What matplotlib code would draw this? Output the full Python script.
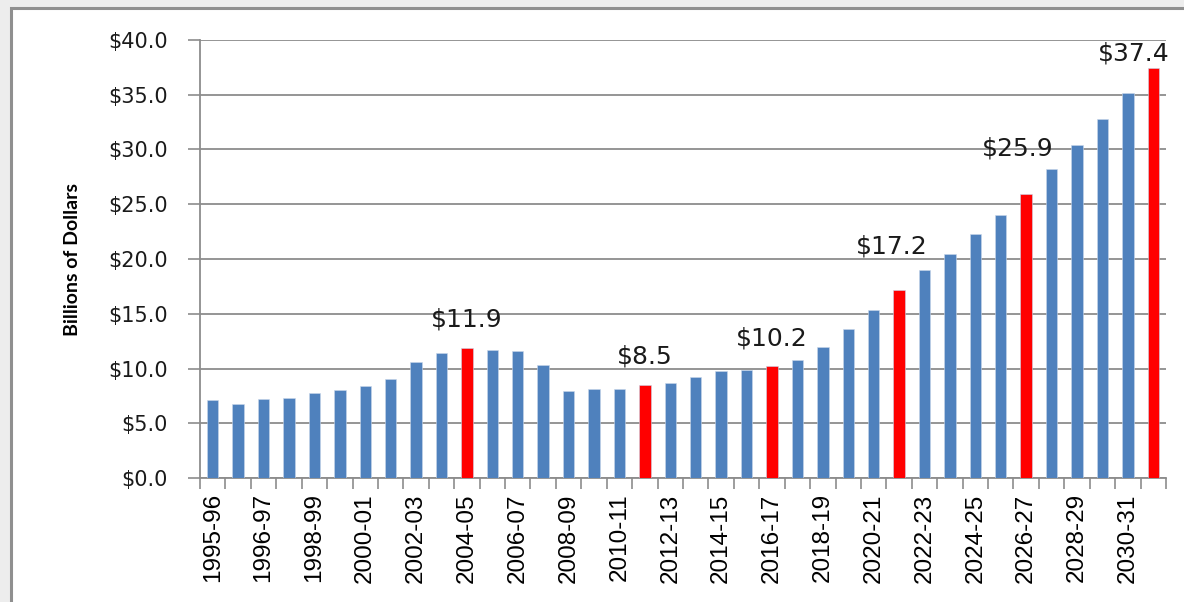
import matplotlib.pyplot as plt
from matplotlib.patches import Rectangle

# fiscal years, one bar each (only every other label is shown on the axis)
categories = [
    "1995-96", "1995-96", "1996-97", "1997-98", "1998-99", "1999-00",
    "2000-01", "2001-02", "2002-03", "2003-04", "2004-05", "2005-06",
    "2006-07", "2007-08", "2008-09", "2009-10", "2010-11", "2011-12",
    "2012-13", "2013-14", "2014-15", "2015-16", "2016-17", "2017-18",
    "2018-19", "2019-20", "2020-21", "2021-22", "2022-23", "2023-24",
    "2024-25", "2025-26", "2026-27", "2027-28", "2028-29", "2029-30",
    "2030-31", "2031-32",
]
# billions of dollars
values = [
    7.1, 6.8, 7.2, 7.3, 7.8, 8.0, 8.4, 9.0, 10.6, 11.4,
    11.9, 11.7, 11.6, 10.3, 7.9, 8.1, 8.1, 8.5, 8.7, 9.2,
    9.8, 9.9, 10.2, 10.8, 12.0, 13.6, 15.3, 17.2, 19.0, 20.5,
    22.3, 24.0, 25.9, 28.2, 30.4, 32.8, 35.2, 37.4,
]
highlight = ["2004-05", "2011-12", "2016-17", "2021-22", "2026-27", "2031-32"]
yticks = [0, 5, 10, 15, 20, 25, 30, 35, 40]

BLUE = "#4F81BD"
RED = "#FF0000"
GRID = "#8c8c8c"

fig = plt.figure(figsize=(11.84, 6.02), dpi=100)
fig.patch.set_facecolor("#ededed")
# white chart frame
fig.add_artist(Rectangle((11 / 1184, -0.05), 1.1, 1 - 8 / 602 + 0.05,
                         transform=fig.transFigure, facecolor="white",
                         edgecolor="#8f8f8f", linewidth=2.2, zorder=0))

ax = fig.add_axes([200 / 1184, 1 - 478 / 602, (1166 - 200) / 1184, (478 - 40) / 602])
ax.set_facecolor("white")

x = list(range(len(values)))
# first label is repeated in the source, so skip it when matching
colors = [RED if (categories[i] in highlight and i > 1) else BLUE for i in x]
ax.bar(x, values, width=0.45, color=colors, edgecolor="#c9d7ea", linewidth=0.4, zorder=3)

ax.set_xlim(-0.5, len(values) - 0.5)
ax.set_ylim(0, 40)
ax.set_yticks(yticks)
ax.set_yticklabels([f"${v:.1f}" for v in yticks], fontsize=15, family="DejaVu Sans",
                   color="#1a1a1a")
ax.yaxis.grid(True, color=GRID, linewidth=1.3, zorder=0)
ax.set_axisbelow(True)

ax.set_xticks(x[::2])
ax.set_xticklabels(categories[::2], rotation=90, fontsize=17.5, family="Liberation Sans")
ax.set_xticks([i - 0.5 for i in range(len(values) + 1)], minor=True)
ax.tick_params(axis="x", which="major", length=0, pad=11)
ax.tick_params(axis="x", which="minor", length=8, width=1.2, color=GRID)
ax.tick_params(axis="y", length=9, width=1.2, color=GRID, pad=14)

for side in ["top", "right"]:
    ax.spines[side].set_visible(False)
for side in ["left", "bottom"]:
    ax.spines[side].set_color(GRID)
    ax.spines[side].set_linewidth(1.3)

ax.set_ylabel("Billions of Dollars", fontsize=14, fontweight="bold", family="Lato")
ax.yaxis.set_label_coords(-0.123, 0.5)

# label offsets (pixels) for the highlighted years
offsets = [(0, 28), (0, 28), (0, 28), (-7, 43), (-8, 46), (-20, 15)]
red_idx = [i for i in x if colors[i] == RED]
for (dx, dy), i in zip(offsets, red_idx):
    ax.annotate(f"${values[i]:.1f}", (i, values[i]), xytext=(dx, dy),
                textcoords="offset pixels", ha="center", va="center",
                fontsize=18, family="DejaVu Sans", color="#1a1a1a")

fig.savefig("out.png", dpi=100, facecolor=fig.get_facecolor())
